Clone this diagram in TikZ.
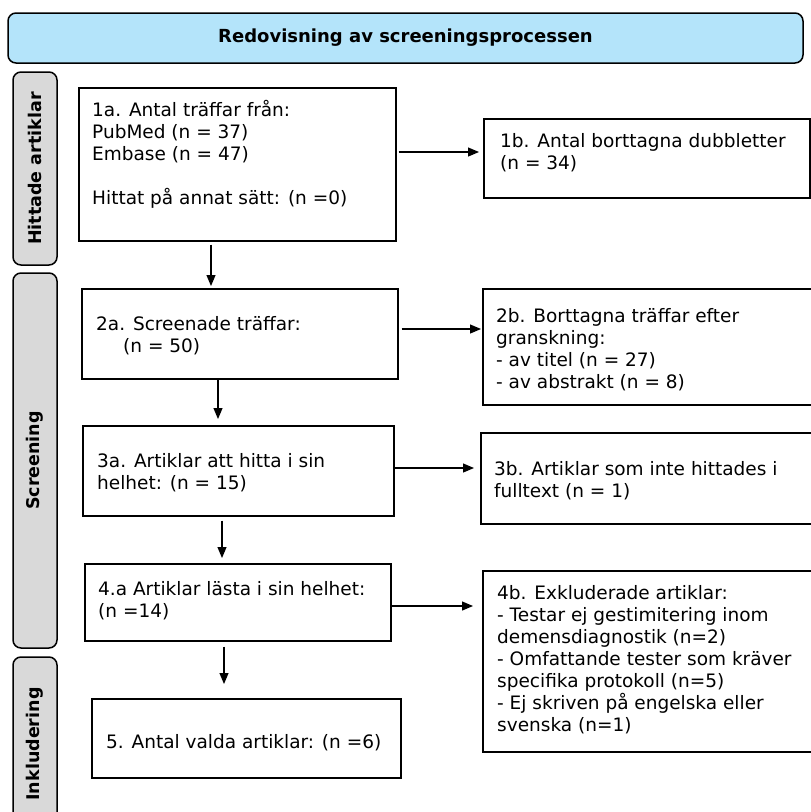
\documentclass[tikz,border=0pt]{standalone}
\usepackage{fontspec}
\setmainfont{DejaVu Sans}
\usetikzlibrary{arrows.meta,calc}

\definecolor{titleblue}{RGB}{180,228,250}
\definecolor{phasegray}{RGB}{217,217,217}

\tikzset{
  box/.style={draw, line width=1.5pt, inner sep=0pt, anchor=north west},
  phase/.style={draw, line width=1.5pt, rounded corners=8pt, fill=phasegray,
    rotate=90, inner sep=0pt, font=\bfseries\fontsize{17.5}{20}\selectfont},
  txt/.style={anchor=base west, align=left, inner sep=0pt,
    font=\fontsize{18.5}{22}\selectfont},
  arr/.style={-{Triangle[length=11pt,width=9pt]}, line width=1.2pt}
}

\begin{document}
\begin{tikzpicture}[x=1pt,y=-1pt]

\useasboundingbox (0,0) rectangle (811,812);
\clip (0,0) rectangle (811,812);

% Title
\node[draw, line width=1.5pt, rounded corners=8pt, fill=titleblue,
  minimum width=795pt, minimum height=50pt, inner sep=0pt,
  font=\bfseries\fontsize{18}{20}\selectfont] (title) at (405.5,38)
  {Redovisning av screeningsprocessen};

% Phases
\node[phase, minimum width=193pt, minimum height=44pt] (hittade) at (35,168.5) {Hittade artiklar};
\node[phase, minimum width=375pt, minimum height=44pt] (screening) at (35,460.5) {Screening};
\node[phase, minimum width=174pt, minimum height=44pt] (inkl) at (35,744) {Inkludering};

% Boxes, left column
\node[box, minimum width=317pt, minimum height=153pt] (n1a) at (78,87) {};
\node[box, minimum width=316pt, minimum height=90pt] (n2a) at (81,288) {};
\node[box, minimum width=311pt, minimum height=90pt] (n3a) at (82,425) {};
\node[box, minimum width=306pt, minimum height=77pt] (n4a) at (84,563) {};
\node[box, minimum width=309pt, minimum height=79pt] (n5) at (91,698) {};

% Boxes, right column
\node[box, minimum width=326pt, minimum height=79pt] (n1b) at (483,118) {};
\node[box, minimum width=340pt, minimum height=116pt] (n2b) at (482,288) {};
\node[box, minimum width=340pt, minimum height=91pt] (n3b) at (480,432) {};
\node[box, minimum width=340pt, minimum height=181pt] (n4b) at (482,570) {};

% Texts (base = last line)
\node[txt] (t1a) at (92,204) {1a. Antal träffar från:\\PubMed (n = 37)\\Embase (n = 47)\\[22pt]Hittat på annat sätt: (n =0)};
\node[txt] (t1b) at (500,169.5) {1b. Antal borttagna dubbletter\\(n = 34)};
\node[txt] (t2a) at (96,352.5) {2a. Screenade träffar:\\\hspace*{27pt}(n = 50)};
\node[txt] (t2b) at (496,388) {2b. Borttagna träffar efter\\granskning:\\- av titel (n = 27)\\- av abstrakt (n = 8)};
\node[txt] (t3a) at (97,489.5) {3a. Artiklar att hitta i sin\\helhet: (n = 15)};
\node[txt] (t3b) at (494,497.5) {3b. Artiklar som inte hittades i\\fulltext (n = 1)};
\node[txt] (t4a) at (98,617.5) {4.a Artiklar lästa i sin helhet:\\(n =14)};
\node[txt] (t4b) at (497,731.5) {4b. Exkluderade artiklar:\\- Testar ej gestimitering inom\\demensdiagnostik (n=2)\\- Omfattande tester som kräver\\specifika protokoll (n=5)\\- Ej skriven på engelska eller\\svenska (n=1)};
\node[txt] (t5) at (106,748.5) {5. Antal valda artiklar: (n =6)};

% Arrows to the right
\draw[arr, shorten <=2pt, shorten >=4pt] (n1a.east |- 0,152) -- (n1b.west |- 0,152);
\draw[arr, shorten <=3pt, shorten >=1pt] (n2a.east |- 0,329) -- (n2b.west |- 0,329);
\draw[arr, shorten >=6pt] (n3a.east |- 0,468) -- (n3b.west |- 0,468);
\draw[arr, shorten >=9pt] (n4a.east |- 0,606) -- (n4b.west |- 0,606);

% Arrows down
\draw[arr, shorten <=3pt, shorten >=2pt] (n1a.south -| 211,0) -- (n2a.north -| 211,0);
\draw[arr, shorten >=6pt] (n2a.south -| 218,0) -- (n3a.north -| 218,0);
\draw[arr, shorten <=4pt, shorten >=5pt] (n3a.south -| 222,0) -- (n4a.north -| 222,0);
\draw[arr, shorten <=5pt, shorten >=14pt] (n4a.south -| 224,0) -- (n5.north -| 224,0);

\end{tikzpicture}
\end{document}
